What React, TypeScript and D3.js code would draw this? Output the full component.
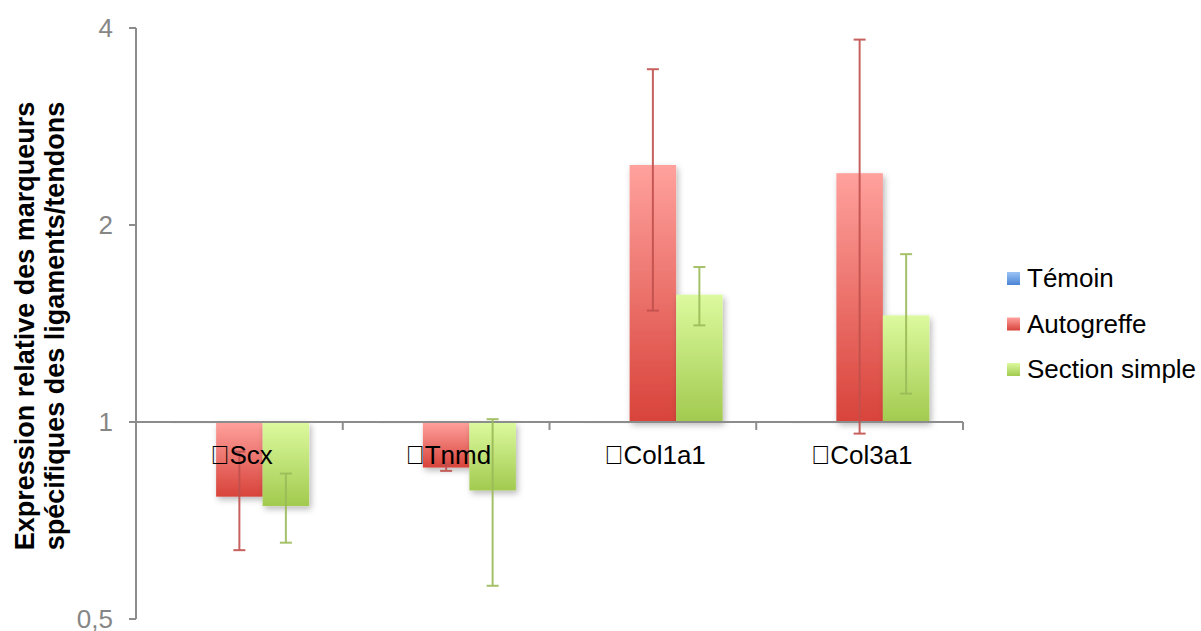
import React from "react";
import * as d3 from "d3";

const categories = ["Scx", "Tnmd", "Col1a1", "Col3a1"];
const seriesNames = ["Témoin", "Autogreffe", "Section simple"];
const temoinValues = [1, 1, 1, 1];
const autogreffeValues = [0.769, 0.852, 2.47, 2.4];
const autogreffeErrors = [0.132, 0.01, 0.99, 1.44];
const sectionValues = [0.744, 0.786, 1.565, 1.455];
const sectionErrors = [0.09, 0.224, 0.16, 0.35];
const yTicks = [0.5, 1, 2, 4];
const yTickLabels = ["0,5", "1", "2", "4"];

const W = 1201;
const H = 631;
const FONT = "'Liberation Sans', Arial, Helvetica, sans-serif";

const series = [
  { name: seriesNames[0], values: temoinValues, errors: [0, 0, 0, 0], top: "#9cc3f5", bottom: "#4a84d6", err: "#4a7ebb" },
  { name: seriesNames[1], values: autogreffeValues, errors: autogreffeErrors, top: "#ffa19d", bottom: "#d8433a", err: "#c0504d" },
  { name: seriesNames[2], values: sectionValues, errors: sectionErrors, top: "#dcfa9e", bottom: "#a2ca4f", err: "#9bbb59" },
];

export default function App() {
  const left = 136;
  const right = 963;
  const y = d3.scaleLog().base(2).domain([0.5, 4]).range([619, 28]);
  const x0 = d3.scaleBand<string>().domain(categories).range([left, right]).paddingInner(0).paddingOuter(0);
  const bw = x0.bandwidth();
  const barW = 46.5;
  const groupOffset = (bw - barW * 3) / 2;
  const y1 = y(1);

  return (
    <svg width={W} height={H} style={{ position: "absolute", left: 0, top: 0, background: "#fff" }} fontFamily={FONT}>
      <defs>
        {series.map((s, i) => (
          <linearGradient key={i} id={`g${i}`} x1="0" y1="0" x2="0" y2="1">
            <stop offset="0" stopColor={s.top} />
            <stop offset="1" stopColor={s.bottom} />
          </linearGradient>
        ))}
        <filter id="shadow" x="-20%" y="-50%" width="150%" height="200%">
          <feDropShadow dx="2" dy="3" stdDeviation="3" floodColor="#000" floodOpacity="0.28" />
        </filter>
      </defs>

      {/* bars */}
      {categories.map((c, ci) =>
        series.map((s, si) => {
          const v = s.values[ci];
          const bx = (x0(c) as number) + groupOffset + si * barW;
          const top = Math.min(y(v), y1);
          const h = Math.abs(y(v) - y1);
          return (
            <rect key={`${ci}-${si}`} x={bx} y={top} width={barW} height={Math.max(h, 1)} fill={`url(#g${si})`} filter="url(#shadow)" />
          );
        })
      )}

      {/* axes */}
      <line x1={left} x2={left} y1={y(4)} y2={y(0.5)} stroke="#8c8c8c" strokeWidth={2} />
      {yTicks.map((t, i) => (
        <g key={t}>
          <line x1={left - 7} x2={left} y1={y(t)} y2={y(t)} stroke="#8c8c8c" strokeWidth={2} />
          <text x={left - 23} y={y(t)} dy="0.36em" textAnchor="end" fontSize={26} fill="#868686">
            {yTickLabels[i]}
          </text>
        </g>
      ))}
      <line x1={left} x2={right} y1={y1} y2={y1} stroke="#8c8c8c" strokeWidth={2} />
      {[...categories.map((c) => x0(c) as number), right].map((xx, i) => (
        <line key={i} x1={xx} x2={xx} y1={y1} y2={y1 + 8} stroke="#8c8c8c" strokeWidth={2} />
      ))}

      {/* error bars */}
      {categories.map((c, ci) =>
        series.map((s, si) => {
          const e = s.errors[ci];
          if (!e) return null;
          const v = s.values[ci];
          const cx = (x0(c) as number) + groupOffset + si * barW + barW / 2;
          const hi = y(v + e);
          const lo = y(v - e);
          return (
            <g key={`e${ci}-${si}`} stroke={s.err} strokeWidth={2} opacity={0.9}>
              <line x1={cx} x2={cx} y1={hi} y2={lo} />
              <line x1={cx - 6} x2={cx + 6} y1={hi} y2={hi} />
              <line x1={cx - 6} x2={cx + 6} y1={lo} y2={lo} />
            </g>
          );
        })
      )}

      {/* category labels */}
      {categories.map((c) => (
        <text key={c} x={(x0(c) as number) + bw / 2 + 2} y={464} textAnchor="middle" fontSize={26} fill="#000">
          {"\uF044" + c}
        </text>
      ))}

      {/* y axis title */}
      <g transform="translate(34, 326) rotate(-90)">
        <text textAnchor="middle" fontSize={27} fontWeight="bold" fill="#000">
          <tspan x={0} y={0}>Expression relative des marqueurs</tspan>
          <tspan x={0} y={30}>spécifiques des ligaments/tendons</tspan>
        </text>
      </g>

      {/* legend */}
      {series.map((s, i) => {
        const ly = 278 + i * 45.5;
        return (
          <g key={s.name}>
            <rect x={1007} y={ly - 6} width={13} height={13} fill={`url(#g${i})`} />
            <text x={1027} y={ly} dy="0.36em" fontSize={26} fill="#000">
              {s.name}
            </text>
          </g>
        );
      })}
    </svg>
  );
}
